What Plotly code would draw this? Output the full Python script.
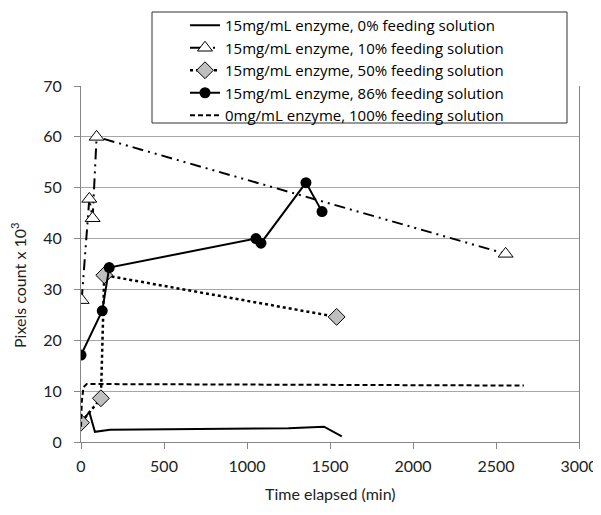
import plotly.graph_objects as go

# ---- data ----
s0_x = [5, 50, 84, 175, 1250, 1464, 1571]
s0_y = [4.0, 5.9, 2.0, 2.4, 2.7, 3.0, 1.1]

s10_x = [4, 50, 70, 94, 2558]
s10_y = [27.9, 47.8, 44.0, 60.0, 37.0]

s50_x = [0, 120, 140, 1540]
s50_y = [3.8, 8.6, 32.8, 24.6]

s86_x = [0, 128, 170, 1054, 1084, 1355, 1452]
s86_y = [17.1, 25.8, 34.3, 40.0, 39.1, 51.0, 45.3]

s100_x = [0, 5, 15, 35, 2668]
s100_y = [3.0, 8.0, 10.8, 11.4, 11.1]

names = [
    "15mg/mL enzyme, 0% feeding solution",
    "15mg/mL enzyme, 10% feeding solution",
    "15mg/mL enzyme, 50% feeding solution",
    "15mg/mL enzyme, 86% feeding solution",
    "0mg/mL enzyme, 100% feeding solution",
]

x_ticks = [0, 500, 1000, 1500, 2000, 2500, 3000]
y_ticks = [0, 10, 20, 30, 40, 50, 60, 70]

FONT = "Lato"
LFONT = "Open Sans"
W, H = 601, 515
OFF = 8  # page body margin offset
# target plot area in page pixels: x 81..579, y 86..442
ML = 81 - OFF
MT = 86 - OFF
PW, PH = 498, 356
MR = W - ML - PW
MB = H - MT - PH

def px_x(p):  # page pixel -> paper x
    return (p - OFF - ML) / PW

def px_y(p):  # page pixel -> paper y
    return (MT + PH - (p - OFF)) / PH

fig = go.Figure()
fig.add_trace(go.Scatter(x=s0_x, y=s0_y, mode="lines", name=names[0],
                         line=dict(color="black", width=2)))
fig.add_trace(go.Scatter(x=s10_x, y=s10_y, mode="lines+markers", name=names[1],
                         line=dict(color="black", width=2, dash="11px,5px,2px,5px,2px,5px"),
                         marker=dict(symbol="triangle-up", size=13, color="white",
                                     line=dict(color="black", width=1))))
fig.add_trace(go.Scatter(x=s50_x, y=s50_y, mode="lines+markers", name=names[2],
                         line=dict(color="black", width=2.5, dash="dot"),
                         marker=dict(symbol="diamond", size=13, color="#bfbfbf",
                                     line=dict(color="black", width=1))))
fig.add_trace(go.Scatter(x=s86_x, y=s86_y, mode="lines+markers", name=names[3],
                         line=dict(color="black", width=2),
                         marker=dict(symbol="circle", size=11, color="black")))
fig.add_trace(go.Scatter(x=s100_x, y=s100_y, mode="lines", name=names[4],
                         line=dict(color="black", width=2, dash="5px,3px")))

fig.update_layout(
    width=W, height=H,
    margin=dict(l=ML, r=MR, t=MT, b=MB, pad=0, autoexpand=False),
    paper_bgcolor="white", plot_bgcolor="white",
    font=dict(family=FONT, size=15, color="#222"),
    showlegend=True,
    legend=dict(x=px_x(185), y=px_y(9), xanchor="left", yanchor="top",
                bgcolor="rgba(0,0,0,0)", borderwidth=0,
                font=dict(family=LFONT, size=15, color="black"),
                tracegroupgap=0, itemwidth=30),
    xaxis=dict(range=[0, 3000], tickvals=x_ticks, showgrid=False,
               showline=True, linecolor="#868686", linewidth=1,
               ticks="outside", ticklen=6, tickcolor="#868686",
               ticklabelstandoff=4,
               zeroline=False, tickfont=dict(size=16, family=FONT, color="#222")),
    yaxis=dict(range=[0, 70], tickvals=y_ticks, showgrid=True,
               gridcolor="#a6a6a6", gridwidth=1,
               showline=True, mirror=True, linecolor="#868686", linewidth=1,
               ticks="outside", ticklen=6, tickcolor="#868686",
               ticklabelstandoff=9,
               zeroline=False, tickfont=dict(size=16, family=FONT, color="#222")),
    shapes=[dict(type="rect", xref="paper", yref="paper",
                 x0=px_x(152), x1=px_x(567), y0=px_y(123), y1=px_y(12),
                 line=dict(color="#333", width=1), fillcolor="white", layer="above")],
    annotations=[
        dict(text="Time elapsed (min)", xref="paper", yref="paper",
             x=px_x(330), y=px_y(493), xanchor="center", yanchor="middle",
             showarrow=False, font=dict(size=16, family=FONT, color="#222")),
        dict(text="Pixels count x 10<sup>3</sup>", xref="paper", yref="paper",
             x=px_x(18), y=px_y(285), xanchor="center", yanchor="middle",
             showarrow=False, textangle=-90,
             font=dict(size=16, family=FONT, color="#222")),
    ],
)

fig.write_html("out.html")
